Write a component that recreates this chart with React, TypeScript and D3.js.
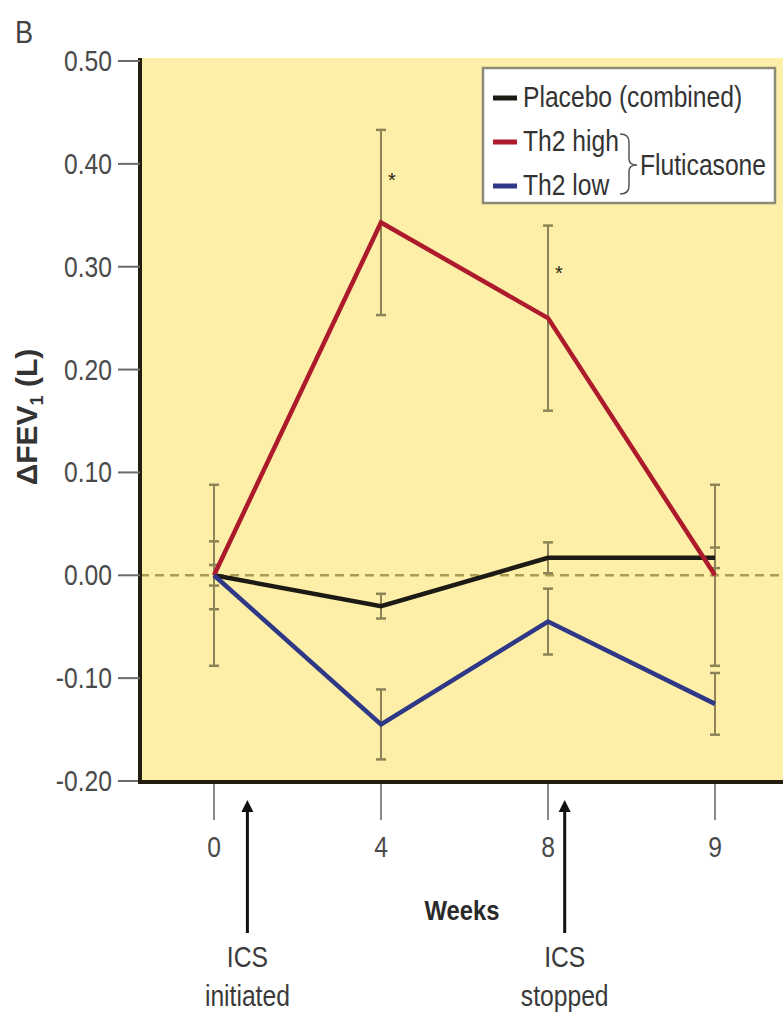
import React, { useEffect } from "react";
import * as d3 from "d3";

const weeks = ["0", "4", "8", "9"];
const yTicks = [0.5, 0.4, 0.3, 0.2, 0.1, 0.0, -0.1, -0.2];

const placeboValues = [0, -0.03, 0.017, 0.017];
const placeboErr = [0.01, 0.012, 0.015, 0.01];
const th2HighValues = [0, 0.343, 0.25, 0];
const th2HighErr = [0.088, 0.09, 0.09, 0.088];
const th2LowValues = [0, -0.145, -0.045, -0.125];
const th2LowErr = [0.033, 0.034, 0.032, 0.03];

const seriesNames = ["Placebo (combined)", "Th2 high", "Th2 low"];
const seriesColors = ["#1c1a14", "#ad1a2c", "#2e3886"];

const asteriskWeeks = ["4", "8"];
const asteriskValues = [0.386, 0.296];

// arrows sit between two week categories (from, to, fraction)
const annotations = [
  { from: "0", to: "4", frac: 0.2, lines: ["ICS", "initiated"] },
  { from: "8", to: "9", frac: 0.1, lines: ["ICS", "stopped"] },
];

const FONT = "'Liberation Sans', Arial, sans-serif";
const SX = 0.85;

const locale = d3.formatLocale({ decimal: ".", thousands: ",", grouping: [3], currency: ["", ""], minus: "-" });
const tickFmt = locale.format(".2f");

function Txt(props: {
  x: number;
  y: number;
  size: number;
  anchor?: string;
  weight?: string;
  fill?: string;
  sx?: number;
  rotate?: number;
  children: React.ReactNode;
}) {
  const { x, y, size, anchor = "start", weight = "normal", fill = "#3a3a3a", sx = SX, rotate = 0, children } = props;
  return (
    <text
      transform={`translate(${x},${y}) rotate(${rotate}) scale(${sx},1)`}
      fontSize={size}
      fontWeight={weight}
      textAnchor={anchor}
      fill={fill}
      fontFamily={FONT}
    >
      {children}
    </text>
  );
}

export default function App() {
  useEffect(() => {
    document.body.style.margin = "0";
  }, []);

  const W = 783;
  const H = 1013;
  const left = 140;
  const right = 783;
  const top = 58;
  const bottom = 782;

  const x = d3.scalePoint<string>().domain(weeks).range([214, 715]);
  const y = d3.scaleLinear().domain([-0.2, 0.5]).range([781, 61]);

  const series = [
    { name: seriesNames[0], values: placeboValues, err: placeboErr, color: seriesColors[0] },
    { name: seriesNames[1], values: th2HighValues, err: th2HighErr, color: seriesColors[1] },
    { name: seriesNames[2], values: th2LowValues, err: th2LowErr, color: seriesColors[2] },
  ];

  const line = d3
    .line<number>()
    .x((_, i) => x(weeks[i]) as number)
    .y((d) => y(d));

  const errColor = "#8c8456";
  const cap = 5;

  const legendX = 483;
  const legendY = 68;
  const rowBaselines = [107, 151, 195];

  return (
    <svg width={W} height={H} style={{ display: "block", background: "#fff" }}>
      {/* panel background */}
      <rect x={left} y={top} width={right - left} height={bottom - top} fill="#fdeea8" />

      {/* zero dashed line */}
      <line x1={left} x2={right} y1={y(0)} y2={y(0)} stroke="#ab9c52" strokeWidth={2.5} strokeDasharray="9,6" />

      {/* error bars */}
      {series.map((s) =>
        s.values.map((v, i) => {
          const cx = x(weeks[i]) as number;
          const y1 = y(v + s.err[i]);
          const y2 = y(v - s.err[i]);
          return (
            <g key={s.name + i} stroke={errColor} strokeWidth={2}>
              <line x1={cx} x2={cx} y1={y1} y2={y2} />
              <line x1={cx - cap} x2={cx + cap} y1={y1} y2={y1} strokeWidth={2.5} />
              <line x1={cx - cap} x2={cx + cap} y1={y2} y2={y2} strokeWidth={2.5} />
            </g>
          );
        })
      )}

      {/* series lines */}
      {series.map((s) => (
        <path key={s.name} d={line(s.values) || ""} fill="none" stroke={s.color} strokeWidth={4.5} strokeLinejoin="miter" />
      ))}

      {/* asterisks */}
      {asteriskWeeks.map((w, i) => (
        <text
          key={w}
          x={(x(w) as number) + 11}
          y={y(asteriskValues[i]) + 9}
          fontSize={20}
          fill="#2a2410"
          textAnchor="middle"
          fontFamily={FONT}
        >
          *
        </text>
      ))}

      {/* y axis */}
      <line x1={left} x2={left} y1={top} y2={bottom + 2} stroke="#241e10" strokeWidth={4} />
      {yTicks.map((t) => (
        <g key={t}>
          <line x1={118} x2={left} y1={y(t)} y2={y(t)} stroke="#6a6a6a" strokeWidth={2} />
          <Txt x={112} y={y(t) + 10} size={29} anchor="end" fill="#4a4a4a">
            {tickFmt(t)}
          </Txt>
        </g>
      ))}

      {/* x axis */}
      <line x1={left - 2} x2={right} y1={bottom} y2={bottom} stroke="#241e10" strokeWidth={4} />
      {weeks.map((w) => (
        <g key={w}>
          <line x1={x(w) as number} x2={x(w) as number} y1={bottom + 2} y2={820} stroke="#8a8a8a" strokeWidth={2} />
          <Txt x={x(w) as number} y={857} size={29} anchor="middle" fill="#4a4a4a">
            {w}
          </Txt>
        </g>
      ))}

      {/* Weeks label */}
      <Txt x={462} y={920} size={28} anchor="middle" weight="bold" fill="#2a2a2a">
        Weeks
      </Txt>

      {/* arrows and annotations */}
      <defs>
        <marker id="arrowhead" viewBox="0 0 10 10" refX="5" refY="5" markerWidth="4" markerHeight="5" orient="auto">
          <path d="M0,0 L10,5 L0,10 z" fill="#111" />
        </marker>
      </defs>
      {annotations.map((a) => {
        const x0 = x(a.from) as number;
        const x1 = x(a.to) as number;
        const ax = x0 + (x1 - x0) * a.frac;
        return (
          <g key={a.from}>
            <line x1={ax} x2={ax} y1={933} y2={806} stroke="#111" strokeWidth={3} markerEnd="url(#arrowhead)" />
            <Txt x={ax} y={967} size={29} anchor="middle">
              {a.lines[0]}
            </Txt>
            <Txt x={ax} y={1006} size={29} anchor="middle">
              {a.lines[1]}
            </Txt>
          </g>
        );
      })}

      {/* y axis title */}
      <Txt x={37} y={417} size={30} anchor="middle" weight="bold" fill="#333" rotate={-90} sx={1}>
        ΔFEV<tspan fontSize={18} dy={6}>1</tspan>
        <tspan dy={-6}> (L)</tspan>
      </Txt>

      {/* panel letter */}
      <Txt x={15} y={43} size={32} fill="#444">
        B
      </Txt>

      {/* legend */}
      <rect x={legendX} y={legendY} width={292} height={135} fill="#fff" stroke="#8d8a78" strokeWidth={2.5} />
      {series.map((s, i) => (
        <g key={s.name}>
          <line x1={493} x2={517} y1={rowBaselines[i] - 9} y2={rowBaselines[i] - 9} stroke={s.color} strokeWidth={5} />
          <Txt x={523} y={rowBaselines[i]} size={29} fill="#333">
            {s.name}
          </Txt>
        </g>
      ))}
      <path
        d="M620,134 Q629,134 629,142 L629,159 Q629,165 637,165 Q629,165 629,171 L629,186 Q629,194 620,194"
        fill="none"
        stroke="#555"
        strokeWidth={1.5}
      />
      <Txt x={640} y={175} size={29} fill="#333">
        Fluticasone
      </Txt>
    </svg>
  );
}
